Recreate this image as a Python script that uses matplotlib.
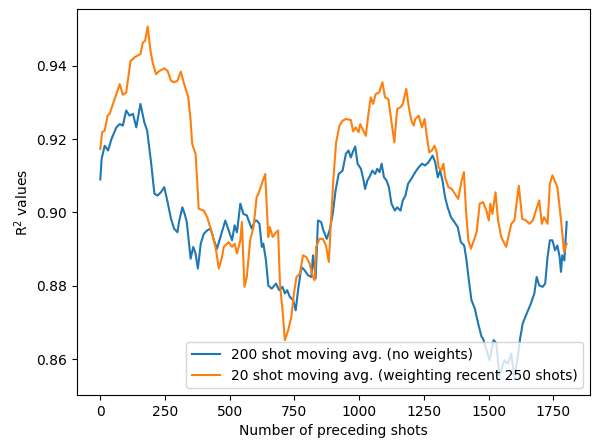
import matplotlib
matplotlib.use("Agg")
import matplotlib.pyplot as plt

# 200 shot moving average (no weights)
shots_200 = [0, 5, 17, 30, 43, 62, 75, 87, 100, 113, 126, 139, 155, 170, 181, 196,
             209, 221, 234, 247, 260, 273, 285, 298, 304, 317, 326, 334, 343, 349,
             359, 368, 377, 388, 400, 413, 426, 439, 451, 464, 483, 496, 509, 519,
             528, 541, 553, 566, 573, 585, 598, 604, 615, 624, 630, 640, 649, 662,
             679, 691, 704, 713, 722, 732, 745, 755, 764, 777, 790, 802, 815, 822,
             832, 841, 853, 862, 875, 886, 898, 909, 921, 936, 949, 959, 968, 975,
             985, 994, 1007, 1016, 1023, 1032, 1043, 1051, 1062, 1070, 1079, 1087,
             1096, 1106, 1115, 1125, 1138, 1147, 1160, 1169, 1179, 1189, 1202, 1217,
             1230, 1243, 1255, 1268, 1284, 1294, 1304, 1313, 1322, 1332, 1342, 1355,
             1368, 1381, 1393, 1406, 1415, 1424, 1434, 1447, 1460, 1473, 1479, 1504,
             1520, 1530, 1542, 1561, 1575, 1588, 1600, 1613, 1622, 1632, 1645, 1664,
             1677, 1686, 1696, 1709, 1719, 1728, 1737, 1747, 1757, 1766, 1775, 1780,
             1785, 1793, 1802]
r2_200 = [0.9090, 0.9146, 0.9182, 0.9169, 0.9200, 0.9232, 0.9241, 0.9237, 0.9278,
          0.9264, 0.9269, 0.9232, 0.9296, 0.9246, 0.9223, 0.9137, 0.9051, 0.9046,
          0.9055, 0.9069, 0.9028, 0.8983, 0.8956, 0.8946, 0.8974, 0.9014, 0.8996,
          0.8974, 0.8915, 0.8874, 0.8906, 0.8888, 0.8847, 0.8915, 0.8942, 0.8951,
          0.8956, 0.8924, 0.8901, 0.8933, 0.8978, 0.8951, 0.8924, 0.8965, 0.8946,
          0.9024, 0.8996, 0.8992, 0.8978, 0.8956, 0.8978, 0.8978, 0.8969, 0.8906,
          0.8915, 0.8869, 0.8801, 0.8792, 0.8806, 0.8788, 0.8797, 0.8779, 0.8788,
          0.8770, 0.8761, 0.8733, 0.8788, 0.8851, 0.8842, 0.8829, 0.8824, 0.8883,
          0.8820, 0.8978, 0.8974, 0.8951, 0.8928, 0.8951, 0.8996, 0.9060, 0.9105,
          0.9114, 0.9160, 0.9169, 0.9150, 0.9164, 0.9180, 0.9133, 0.9119, 0.9092,
          0.9064, 0.9087, 0.9101, 0.9114, 0.9105, 0.9119, 0.9110, 0.9133, 0.9096,
          0.9087, 0.9069, 0.9024, 0.9005, 0.9014, 0.9005, 0.9033, 0.9046, 0.9078,
          0.9092, 0.9110, 0.9123, 0.9133, 0.9128, 0.9137, 0.9155, 0.9137, 0.9096,
          0.9114, 0.9087, 0.9042, 0.9014, 0.8987, 0.8974, 0.8960, 0.8919, 0.8910,
          0.8869, 0.8815, 0.8761, 0.8738, 0.8697, 0.8661, 0.8656, 0.8597, 0.8652,
          0.8643, 0.8555, 0.8597, 0.8588, 0.8615, 0.8550, 0.8606, 0.8656, 0.8697,
          0.8720, 0.8752, 0.8779, 0.8824, 0.8801, 0.8797, 0.8806, 0.8878, 0.8924,
          0.8924, 0.8897, 0.8910, 0.8878, 0.8838, 0.8883, 0.8869, 0.8974]

# 20 shot moving average (weighting recent 250 shots)
shots_20 = [0, 7, 17, 28, 36, 49, 62, 75, 87, 100, 117, 126, 132, 142, 155, 164, 173,
            183, 193, 202, 215, 228, 247, 260, 273, 285, 292, 298, 311, 324, 340, 349,
            355, 368, 375, 380, 400, 413, 432, 445, 458, 470, 477, 496, 509, 519, 528,
            541, 547, 557, 566, 579, 592, 604, 611, 624, 637, 649, 655, 666, 679, 687,
            694, 704, 713, 726, 738, 748, 758, 771, 783, 796, 809, 819, 828, 834, 847,
            860, 872, 883, 892, 901, 911, 924, 936, 949, 968, 977, 987, 998, 1004,
            1016, 1026, 1036, 1045, 1054, 1064, 1077, 1090, 1100, 1113, 1121, 1128,
            1136, 1147, 1160, 1169, 1182, 1192, 1202, 1211, 1217, 1230, 1243, 1253,
            1262, 1271, 1281, 1291, 1300, 1307, 1317, 1326, 1332, 1345, 1358, 1370,
            1383, 1396, 1405, 1413, 1422, 1432, 1441, 1454, 1466, 1479, 1492, 1501,
            1507, 1515, 1527, 1537, 1549, 1568, 1588, 1600, 1617, 1630, 1645, 1658,
            1671, 1683, 1696, 1706, 1715, 1728, 1737, 1747, 1766, 1779, 1792, 1802]
r2_20 = [0.9173, 0.9219, 0.9223, 0.9264, 0.9269, 0.9296, 0.9323, 0.9350, 0.9321,
         0.9327, 0.9414, 0.9418, 0.9423, 0.9427, 0.9432, 0.9463, 0.9468, 0.9507,
         0.9445, 0.9409, 0.9377, 0.9386, 0.9393, 0.9386, 0.9359, 0.9355, 0.9357,
         0.9359, 0.9384, 0.9350, 0.9314, 0.9250, 0.9187, 0.9160, 0.9078, 0.9010,
         0.9005, 0.8987, 0.8942, 0.8906, 0.8847, 0.8878, 0.8906, 0.8919, 0.8906,
         0.8915, 0.8888, 0.8924, 0.8974, 0.8797, 0.8824, 0.8924, 0.8960, 0.9042,
         0.9051, 0.9078, 0.9105, 0.8933, 0.8960, 0.8933, 0.8946, 0.8951, 0.8806,
         0.8733, 0.8652, 0.8679, 0.8715, 0.8779, 0.8824, 0.8833, 0.8883, 0.8878,
         0.8860, 0.8829, 0.8815, 0.8906, 0.8928, 0.8928, 0.8910, 0.8865, 0.8987,
         0.9096, 0.9190, 0.9237, 0.9250, 0.9255, 0.9252, 0.9221, 0.9232, 0.9219,
         0.9241, 0.9223, 0.9209, 0.9269, 0.9314, 0.9296, 0.9323, 0.9327, 0.9355,
         0.9314, 0.9309, 0.9269, 0.9232, 0.9191, 0.9282, 0.9287, 0.9296, 0.9337,
         0.9287, 0.9250, 0.9237, 0.9255, 0.9264, 0.9232, 0.9255, 0.9205, 0.9164,
         0.9169, 0.9182, 0.9164, 0.9123, 0.9114, 0.9133, 0.9096, 0.9069, 0.9064,
         0.9051, 0.9037, 0.9087, 0.9110, 0.9005, 0.8924, 0.8901, 0.8919, 0.8946,
         0.9024, 0.9028, 0.9005, 0.8978, 0.9024, 0.8996, 0.9055, 0.8978, 0.8933,
         0.8906, 0.8969, 0.8978, 0.9073, 0.8983, 0.8978, 0.8969, 0.8978, 0.9005,
         0.9033, 0.8969, 0.8987, 0.8969, 0.9078, 0.9101, 0.9069, 0.8987, 0.8892,
         0.8915]

fig = plt.figure(figsize=(5.92, 4.4), dpi=100)
ax = fig.add_axes([77 / 592, 45 / 440, 513 / 592, 386 / 440])

ax.plot(shots_200, r2_200, label="200 shot moving avg. (no weights)")
ax.plot(shots_20, r2_20, label="20 shot moving avg. (weighting recent 250 shots)")

ax.set_xlabel("Number of preceding shots")
ax.set_ylabel("R$^2$ values")
ax.legend(loc="lower right")

fig.savefig("out.png", dpi=100)
